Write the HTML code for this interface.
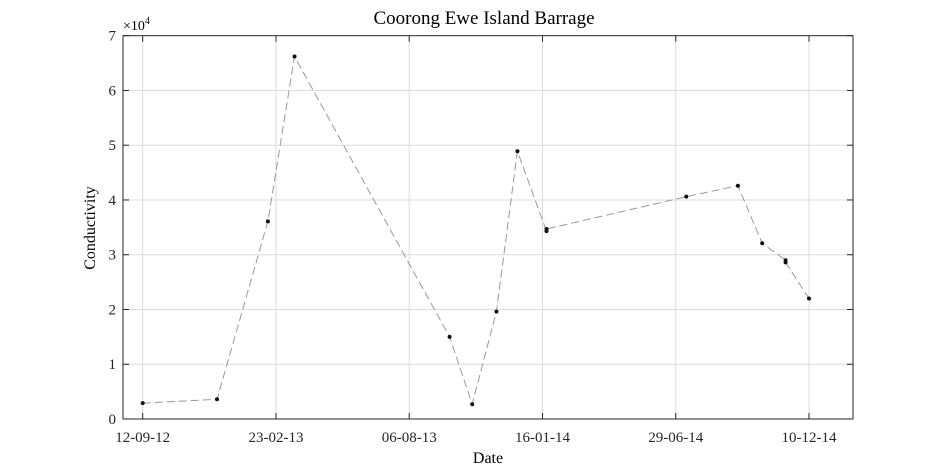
<!DOCTYPE html>
<html><head><meta charset="utf-8"><style>
html,body{margin:0;padding:0;background:#fff;}
svg{display:block;font-family:"Liberation Serif",serif;}
</style></head><body>
<svg id="chart" width="945" height="472">
<rect x="0" y="0" width="945" height="472" fill="#fff"/>
<g id="grid"></g>
<g id="axes"></g>
<g id="series"></g>
<text x="484" y="24" text-anchor="middle" font-size="19">Coorong Ewe Island Barrage</text>
<text x="488" y="463" text-anchor="middle" font-size="16">Date</text>
<text transform="translate(95,228) rotate(-90)" text-anchor="middle" font-size="16">Conductivity</text>
<text x="123" y="30" font-size="14">×10<tspan dy="-6" font-size="10">4</tspan></text>
</svg>
<script>
// days since 12-09-12
const days = [0, 92, 155, 188, 380, 408, 438, 464, 500, 500, 673, 737, 767, 796, 796, 825];
const values = [2900, 3600, 36100, 66200, 15000, 2700, 19600, 48900, 34300, 34700, 40600, 42600, 32100, 29000, 28600, 22000];
const xTickDays = [0, 165, 330, 495, 660, 825];
const xTickLabels = ["12-09-12", "23-02-13", "06-08-13", "16-01-14", "29-06-14", "10-12-14"];
const yTicks = [0, 10000, 20000, 30000, 40000, 50000, 60000, 70000];
const yTickLabels = ["0", "1", "2", "3", "4", "5", "6", "7"];

const L = 123, R = 853, T = 35.7, B = 419;
const x0 = 142.7, pxPerDay = (809 - 142.7) / 825;
const xs = d => x0 + d * pxPerDay;
const ys = v => B - (v / 70000) * (B - T);
const NS = "http://www.w3.org/2000/svg";
function mk(tag, attrs, parent) {
  const e = document.createElementNS(NS, tag);
  for (const k in attrs) e.setAttribute(k, attrs[k]);
  parent.appendChild(e);
  return e;
}
const grid = document.getElementById('grid');
const axes = document.getElementById('axes');
const series = document.getElementById('series');

xTickDays.forEach((d, i) => {
  const x = xs(d);
  const g = mk('line', {x1: x, x2: x, y1: T, y2: B, stroke: '#dcdcdc', 'stroke-width': 1}, grid);
  
  
  mk('line', {x1: x, x2: x, y1: B, y2: B - 6, stroke: '#262626'}, axes);
  mk('line', {x1: x, x2: x, y1: T, y2: T + 6, stroke: '#262626'}, axes);
  const t = mk('text', {x: x, y: B + 23, 'text-anchor': 'middle', 'font-size': 15, fill: '#262626'}, axes);
  t.textContent = xTickLabels[i];
  
  
});
yTicks.forEach((v, i) => {
  const y = ys(v);
  if (i > 0 && i < yTicks.length - 1) {
    const g = mk('line', {x1: L, x2: R, y1: y, y2: y, stroke: '#dcdcdc', 'stroke-width': 1}, grid);
    
    
  }
  mk('line', {x1: L, x2: L + 6, y1: y, y2: y, stroke: '#262626'}, axes);
  mk('line', {x1: R, x2: R - 6, y1: y, y2: y, stroke: '#262626'}, axes);
  const t = mk('text', {x: L - 7, y: y + 5, 'text-anchor': 'end', 'font-size': 15, fill: '#262626'}, axes);
  t.textContent = yTickLabels[i];
  
  
});
const box = mk('rect', {x: L, y: T, width: R - L, height: B - T, fill: 'none', stroke: '#262626', 'stroke-width': 1}, axes);



const pts = days.map((d, i) => xs(d).toFixed(1) + ',' + ys(values[i]).toFixed(1)).join(' ');
const line = mk('polyline', {points: pts, fill: 'none', stroke: '#999', 'stroke-width': 1, 'stroke-dasharray': '8,4'}, series);


days.forEach((d, i) => {
  const c = mk('circle', {cx: xs(d), cy: ys(values[i]), r: 2, fill: '#111'}, series);
  
  
});
</script>
</body></html>
